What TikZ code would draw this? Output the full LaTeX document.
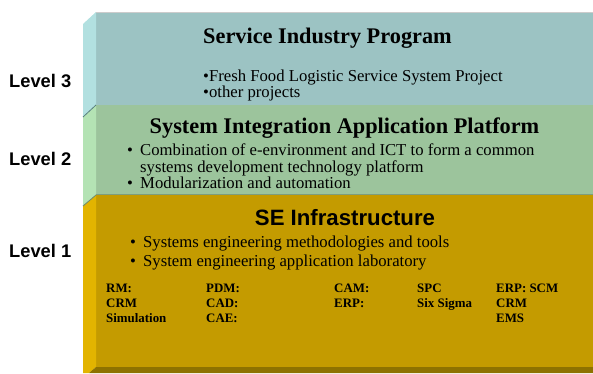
\documentclass[tikz,border=0pt]{standalone}
\usepackage{fontspec}
\setmainfont{Liberation Serif}
\setsansfont{Liberation Sans}
\definecolor{tfront}{HTML}{9CC3C3}
\definecolor{tside}{HTML}{B2E0E0}
\definecolor{gfront}{HTML}{9CC49C}
\definecolor{gside}{HTML}{B4E3B4}
\definecolor{yfront}{HTML}{C49B00}
\definecolor{yside}{HTML}{E2B400}
\definecolor{ybottom}{HTML}{8E7200}
\begin{document}
\begin{tikzpicture}[x=1pt,y=-1pt,
  txt/.style={inner sep=0pt, anchor=base west, font=\fontsize{16.7}{20}\selectfont},
  ttl/.style={inner sep=0pt, anchor=base, font=\fontsize{22.3}{26}\selectfont\bfseries},
  sttl/.style={inner sep=0pt, anchor=base, font=\sffamily\bfseries\fontsize{22.2}{26}\selectfont},
  lvl/.style={inner sep=0pt, anchor=base west, font=\sffamily\bfseries\fontsize{18.3}{22}\selectfont},
  tbl/.style={inner sep=0pt, anchor=base west, font=\bfseries\fontsize{12.9}{15}\selectfont}]
\useasboundingbox (0,0) rectangle (593,373);
% Level 3 block
\fill[tfront] (96,12) rectangle (593,105);
\fill[tside] (83,24) -- (96,12) -- (96,105) -- (83,117) -- cycle;
\draw[gray!40, line width=0.8pt] (96,12.4) -- (593,12.4);
% Level 2 block
\fill[gfront] (96,105) rectangle (593,195);
\fill[gside] (83,117) -- (96,105) -- (96,195) -- (83,206) -- cycle;
\draw[gray!70!teal, line width=0.8pt] (83,117) -- (96,105);
\draw[gfront!80!black, line width=1pt] (96,194) -- (593,194);
% Level 1 block
\fill[yfront] (96,195) rectangle (593,367);
\fill[yside] (83,206) -- (96,195) -- (96,367) -- (89,373) -- (83,373) -- cycle;
\draw[gfront!70!black, line width=0.8pt] (83,206) -- (96,195);
\fill[ybottom] (96,367) -- (593,367) -- (593,373) -- (89,373) -- cycle;
% Level labels
\node[lvl] (l3) at (9,87) {Level 3};
\node[lvl] (l2) at (9,165) {Level 2};
\node[lvl] (l1) at (9,257) {Level 1};
% Level 3 texts
\node[ttl] (t3) at (327.5,43) {Service Industry Program};
\node[txt] (b31) at (203,81) {•Fresh Food Logistic Service System Project};
\node[txt] (b32) at (203,97) {•other projects};
% Level 2 texts
\node[ttl] (t2) at (344.5,133) {System Integration Application Platform};
\node[txt] (b21) at (127,155) {\makebox[13pt][l]{•}Combination of e-environment and ICT to form a common};
\node[txt] (b22) at (140,172) {systems development technology platform};
\node[txt] (b23) at (127,188) {\makebox[13pt][l]{•}Modularization and automation};
% Level 1 texts
\node[sttl] (t1) at (345,225) {SE Infrastructure};
\node[txt] (b11) at (130,247) {\makebox[13pt][l]{•}Systems engineering methodologies and tools};
\node[txt] (b12) at (130,266) {\makebox[13pt][l]{•}System engineering application laboratory};
% table
\node[tbl] (c11) at (106,292) {RM:};
\node[tbl] (c12) at (106,307) {CRM};
\node[tbl] (c13) at (106,322) {Simulation};
\node[tbl] (c21) at (206,292) {PDM:};
\node[tbl] (c22) at (206,307) {CAD:};
\node[tbl] (c23) at (206,322) {CAE:};
\node[tbl] (c31) at (334,292) {CAM:};
\node[tbl] (c32) at (334,307) {ERP:};
\node[tbl] (c41) at (417,292) {SPC};
\node[tbl] (c42) at (417,307) {Six Sigma};
\node[tbl] (c51) at (496,292) {ERP: SCM};
\node[tbl] (c52) at (496,307) {CRM};
\node[tbl] (c53) at (496,322) {EMS};
\end{tikzpicture}
\end{document}
